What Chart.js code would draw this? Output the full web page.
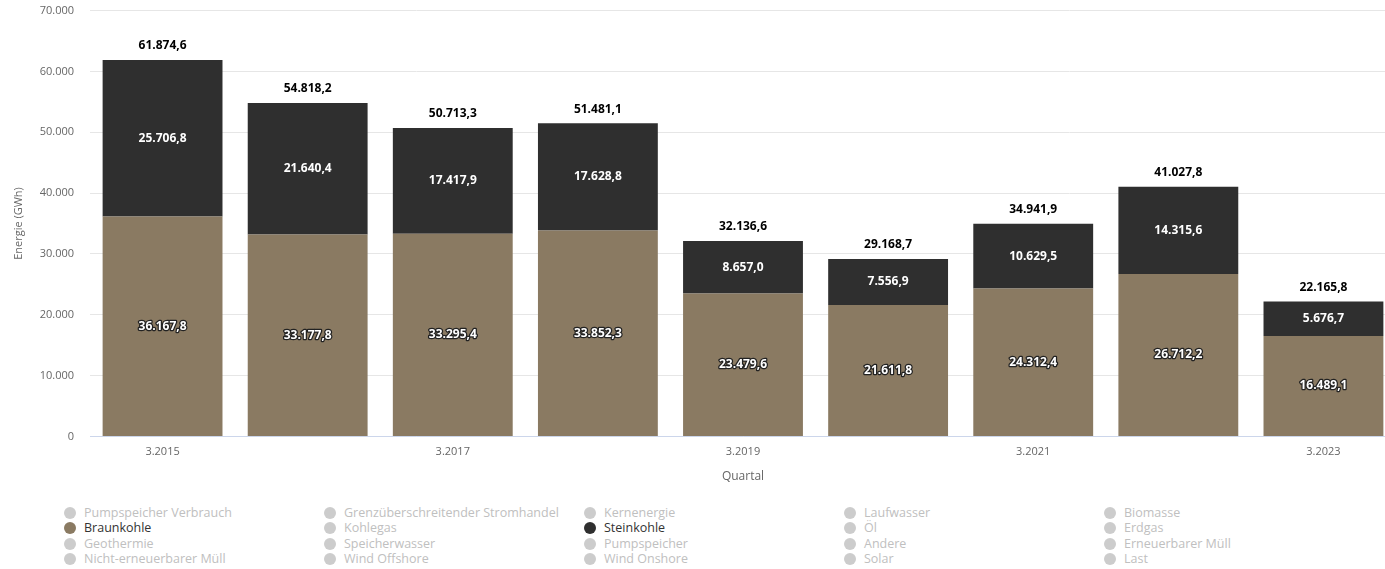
<!DOCTYPE html>
<html>
<head>
<meta charset="utf-8">
<script src="https://cdn.jsdelivr.net/npm/chart.js@4/dist/chart.umd.min.js"></script>
<style>
  body { margin: 0; background: #fff; overflow: hidden; font-family: "Open Sans", sans-serif; }
  #wrap { position: absolute; left: 0; top: -12px; width: 1396px; height: 500px; }
  #legend { position: absolute; left: 64px; top: 505px; width: 1320px; }
  .item { position: absolute; font-size: 12.5px; color: #c0c0c0; white-space: nowrap; line-height: 15px; }
  .item .dot { display: inline-block; width: 12px; height: 12px; border-radius: 50%; background: #ccc; vertical-align: -2px; margin-right: 8px; }
  .item.on { color: #333; }
</style>
</head>
<body>
<div id="wrap"><canvas id="energy-chart"></canvas></div>
<div id="legend"></div>
<script>
// Quartal data (GWh)
const quarters = ['3.2015', '3.2016', '3.2017', '3.2018', '3.2019', '3.2020', '3.2021', '3.2022', '3.2023'];
const braunkohle = [36167.8, 33177.8, 33295.4, 33852.3, 23479.6, 21611.8, 24312.4, 26712.2, 16489.1];
const steinkohle = [25706.8, 21640.4, 17417.9, 17628.8, 8657.0, 7556.9, 10629.5, 14315.6, 5676.7];

// legend entries, row by row (5 columns)
const legendNames = [
  'Pumpspeicher Verbrauch', 'Grenzüberschreitender Stromhandel', 'Kernenergie', 'Laufwasser', 'Biomasse',
  'Braunkohle', 'Kohlegas', 'Steinkohle', 'Öl', 'Erdgas',
  'Geothermie', 'Speicherwasser', 'Pumpspeicher', 'Andere', 'Erneuerbarer Müll',
  'Nicht-erneuerbarer Müll', 'Wind Offshore', 'Wind Onshore', 'Solar', 'Last'
];
const legendColors = { 'Braunkohle': '#8a7a62', 'Steinkohle': '#2f2f2f' };

function fmt(v, dec) {
  const parts = v.toFixed(dec).split('.');
  const int = parts[0].replace(/\B(?=(\d{3})+(?!\d))/g, '.');
  return parts[1] ? int + ',' + parts[1] : int;
}

// draws the values inside the segments and the totals on top
const valueLabels = {
  id: 'valueLabels',
  afterDatasetsDraw(chart) {
    const ctx = chart.ctx;
    ctx.save();
    ctx.textAlign = 'center';
    ctx.textBaseline = 'middle';
    ctx.font = 'bold 12px "Open Sans", sans-serif';
    chart.data.datasets.forEach((ds, i) => {
      const meta = chart.getDatasetMeta(i);
      meta.data.forEach((bar, j) => {
        const y = (bar.y + bar.base) / 2;
        const txt = fmt(ds.data[j], 1);
        if (i === 0) {
          ctx.lineWidth = 2.5;
          ctx.strokeStyle = '#222';
          ctx.lineJoin = 'round';
          ctx.strokeText(txt, bar.x, y);
        }
        ctx.fillStyle = '#fff';
        ctx.fillText(txt, bar.x, y);
      });
    });
    const top = chart.getDatasetMeta(1).data;
    ctx.fillStyle = '#000';
    top.forEach((bar, j) => {
      ctx.fillText(fmt(braunkohle[j] + steinkohle[j], 1), bar.x, bar.y - 14);
    });
    ctx.restore();
  }
};

const ctx_energy = document.getElementById('energy-chart').getContext('2d');
const energy_chart = new Chart(ctx_energy, {
  type: 'bar',
  data: {
    labels: quarters,
    datasets: [
      { label: 'Braunkohle', data: braunkohle, backgroundColor: '#8a7a62' },
      { label: 'Steinkohle', data: steinkohle, backgroundColor: '#2f2f2f' }
    ]
  },
  options: {
    responsive: true,
    maintainAspectRatio: false,
    animation: false,
    layout: { padding: { top: 4, right: 0, bottom: 4, left: 0 } },
    datasets: { bar: { categoryPercentage: 1, barPercentage: 0.826 } },
    plugins: {
      legend: { display: false },
      tooltip: { enabled: false }
    },
    scales: {
      x: {
        stacked: true,
        grid: { display: false, drawTicks: false },
        border: { color: '#ccd6eb' },
        ticks: {
          autoSkip: false,
          maxRotation: 0,
          padding: 9,
          color: '#666',
          font: { family: 'Open Sans', size: 11 },
          callback: function (val, idx) { return idx % 2 === 0 ? this.getLabelForValue(val) : ''; }
        },
        title: { display: true, text: 'Quartal', color: '#666', font: { family: 'Open Sans', size: 12 }, padding: { top: 2, bottom: 0 } }
      },
      y: {
        stacked: true,
        min: 0,
        max: 70000,
        grid: { color: '#e6e6e6', drawTicks: false },
        border: { display: false },
        afterFit: (scale) => { scale.width = 90; },
        ticks: {
          stepSize: 10000,
          padding: 16,
          color: '#666',
          font: { family: 'Open Sans', size: 11 },
          callback: (v) => fmt(v, 0)
        },
        title: { display: true, text: 'Energie (GWh)', color: '#666', font: { family: 'Open Sans', size: 11 }, padding: { top: 12, bottom: 0 } }
      }
    }
  },
  plugins: [valueLabels]
});

// HTML legend laid out as a 5 column grid
const legendBox = document.getElementById('legend');
legendNames.forEach((name, k) => {
  const el = document.createElement('div');
  el.className = 'item' + (legendColors[name] ? ' on' : '');
  el.style.left = (k % 5) * 260 + 'px';
  el.style.top = Math.floor(k / 5) * 15.4 + 'px';
  const dot = document.createElement('span');
  dot.className = 'dot';
  if (legendColors[name]) dot.style.background = legendColors[name];
  el.appendChild(dot);
  el.appendChild(document.createTextNode(name));
  legendBox.appendChild(el);
});
</script>
</body>
</html>
